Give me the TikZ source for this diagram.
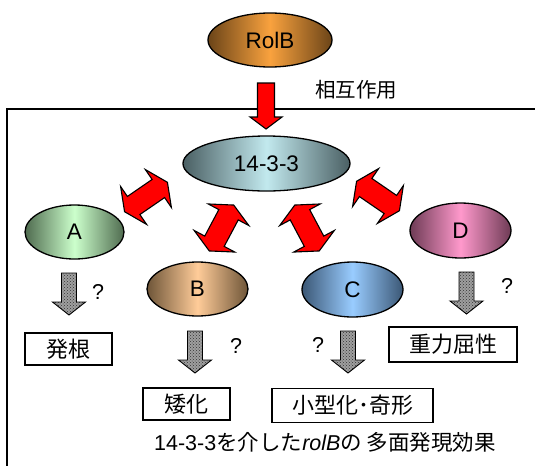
\documentclass[tikz,border=0pt]{standalone}
\usepackage{fontspec}
\setmainfont{Liberation Sans}
\newfontfamily\jp{Noto Sans CJK JP}
\usetikzlibrary{shapes.geometric,patterns}
\definecolor{rolbE}{HTML}{6B4418}
\definecolor{rolbC}{HTML}{F9A23E}
\definecolor{ftE}{HTML}{4A5F63}
\definecolor{ftC}{HTML}{C2E9EE}
\definecolor{aE}{HTML}{4F6B4F}
\definecolor{aC}{HTML}{CCFFCC}
\definecolor{bE}{HTML}{6E5538}
\definecolor{bC}{HTML}{FFCC99}
\definecolor{cE}{HTML}{3B5775}
\definecolor{cC}{HTML}{99CCFF}
\definecolor{dE}{HTML}{6E3B55}
\definecolor{dC}{HTML}{FF99CC}
\tikzset{
  ell/.style={ellipse, draw=black, line width=1.3pt, inner sep=0pt,
    font=\fontsize{22.5}{26}\selectfont},
  shade3/.style 2 args={left color=#1, right color=#1, middle color=#2},
  lbl/.style={draw=black, line width=1.2pt, fill=white, inner sep=0pt,
    font=\jp\fontsize{22}{26}\selectfont},
  qm/.style={font=\fontsize{21.5}{25}\selectfont, inner sep=0pt},
  dblarrow/.pic={
    \draw[line width=1.1pt, fill=red, line join=miter]
      (-26,0) -- (-15,23) -- (-15,11) -- (15,11) -- (15,23) -- (26,0)
      -- (15,-23) -- (15,-11) -- (-15,-11) -- (-15,-23) -- cycle;},
  grayarrow/.pic={
    \draw[line width=0.9pt, preaction={fill=gray!75}, pattern=crosshatch dots,
      pattern color=black!80, line join=miter]
      (-7.5,0) -- (7.5,0) -- (7.5,29) -- (16.5,29) -- (0,42) -- (-16.5,29)
      -- (-7.5,29) -- cycle;},
  redarrow/.pic={
    \draw[line width=1.1pt, fill=red, line join=miter]
      (-8.5,0) -- (8.5,0) -- (8.5,34) -- (16,34) -- (0,46) -- (-16,34)
      -- (-8.5,34) -- cycle;}
}
\begin{document}
\begin{tikzpicture}[x=1pt, y=-1pt]
\useasboundingbox (0,0) rectangle (535,466);
% frame
\draw[line width=1.3pt] (535,109) -- (7,109) -- (7,466);
% main nodes
\node[ell, shade3={rolbE}{rolbC}, minimum width=124, minimum height=54] (rolb) at (270,40) {RolB};
\node[ell, shade3={ftE}{ftC}, minimum width=167, minimum height=55] (ft) at (266.5,163.5) {14-3-3};
\node[ell, shade3={aE}{aC}, minimum width=99, minimum height=54] (A) at (74.5,232) {A};
\node[ell, shade3={bE}{bC}, minimum width=101, minimum height=54] (B) at (197.5,289) {B};
\node[ell, shade3={cE}{cC}, minimum width=101, minimum height=55] (C) at (352.5,289.5) {C};
\node[ell, shade3={dE}{dC}, minimum width=101, minimum height=55] (D) at (460.5,230.5) {D};
% interaction arrow
\pic (ra) at (266,83) {redarrow};
\node[font=\jp\fontsize{20.5}{24}\selectfont, anchor=west, inner sep=0pt] (sogo) at (315,90) {相互作用};
% double arrows
\pic[rotate=34.5] (dA) at (146,197) {dblarrow};
\pic[rotate=62] (dB) at (221.5,228) {dblarrow};
\pic[rotate=-62] (dC) at (307,228) {dblarrow};
\pic[rotate=-34.5] (dD) at (378,196) {dblarrow};
% gray arrows
\pic (gA) at (69,273) {grayarrow};
\pic (gB) at (195,331) {grayarrow};
\pic (gC) at (348,331) {grayarrow};
\pic (gD) at (466.5,272) {grayarrow};
\node[qm] (qA) at (98,292) {?};
\node[qm] (qB) at (236,346) {?};
\node[qm] (qC) at (318,345) {?};
\node[qm] (qD) at (507,286) {?};
% result boxes
\node[lbl, minimum width=87, minimum height=32] (hakkon) at (68.5,349) {発根};
\node[lbl, minimum width=128, minimum height=35] (juryoku) at (453,344.5) {重力屈性};
\node[lbl, minimum width=87, minimum height=32] (waika) at (186.5,404) {矮化};
\node[lbl, minimum width=161, minimum height=34] (kogata) at (352.5,405.5) {小型化･奇形};
% caption
\node[inner sep=0pt, font=\fontsize{21.5}{25}\selectfont] (cap) at (325,442)
  {14-3-3{\jp を介した}\textit{rolB}{\jp の 多面発現効果}};
\end{tikzpicture}
\end{document}
